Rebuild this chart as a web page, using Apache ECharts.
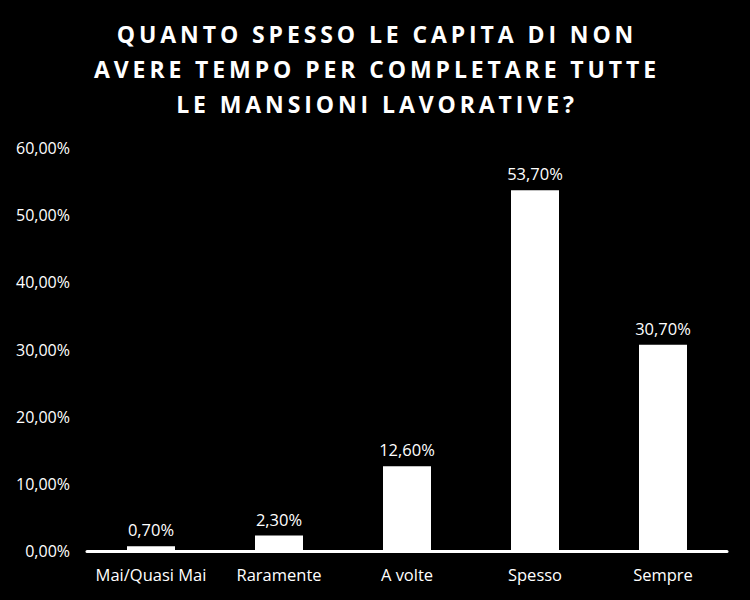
<!DOCTYPE html>
<html>
<head>
<meta charset="utf-8">
<script src="https://cdn.jsdelivr.net/npm/echarts@6/dist/echarts.min.js"></script>
<style>
html,body{margin:0;padding:0;background:#000;}
#chart{width:750px;height:600px;}
</style>
</head>
<body>
<div id="chart"></div>
<script>
const titleLines = ["QUANTO SPESSO LE CAPITA DI NON", "AVERE TEMPO PER COMPLETARE TUTTE", "LE MANSIONI LAVORATIVE?"];
const categories = ["Mai/Quasi Mai", "Raramente", "A volte", "Spesso", "Sempre"];
const values = [0.7, 2.3, 12.6, 53.7, 30.7];
const yMin = 0, yMax = 60, yStep = 10;

function fmt(v) { return v.toFixed(2).replace('.', ',') + '%'; }

const titleY = [34, 69, 104];
const chart = echarts.init(document.getElementById('chart'), null, { renderer: 'svg' });
chart.setOption({
  backgroundColor: '#000000',
  animation: false,
  graphic: titleLines.map((t, i) => ({
    type: 'text',
    x: 377,
    y: titleY[i],
    style: {
      text: t,
      fill: '#ffffff',
      align: 'center',
      verticalAlign: 'middle',
      font: 'bold 23px "Open Sans"'
    }
  })),
  grid: { left: 87, right: 23, top: 148, bottom: 49, containLabel: false },
  xAxis: {
    type: 'category',
    data: categories,
    axisLine: { show: true, lineStyle: { color: '#ffffff', width: 3 } },
    axisTick: { show: false },
    axisLabel: { color: '#ffffff', fontFamily: 'Open Sans', fontSize: 16.5, margin: 15, interval: 0 },
    splitLine: { show: false }
  },
  yAxis: {
    type: 'value',
    min: yMin, max: yMax, interval: yStep,
    axisLine: { show: false },
    axisTick: { show: false },
    splitLine: { show: false },
    axisLabel: { color: '#ffffff', fontFamily: 'Open Sans', fontSize: 16, margin: 17, formatter: fmt }
  },
  series: [{
    type: 'bar',
    data: values,
    barWidth: 48,
    itemStyle: { color: '#ffffff' },
    label: {
      show: true,
      position: 'top',
      distance: 8,
      color: '#ffffff',
      fontFamily: 'Open Sans',
      fontSize: 16.5,
      formatter: p => fmt(p.value)
    }
  }]
});
// widen the title letters like the reference
chart.getDom().querySelectorAll('text').forEach(el => {
  if (titleLines.indexOf(el.textContent) >= 0) el.setAttribute('letter-spacing', '3.9');
});
</script>
</body>
</html>
